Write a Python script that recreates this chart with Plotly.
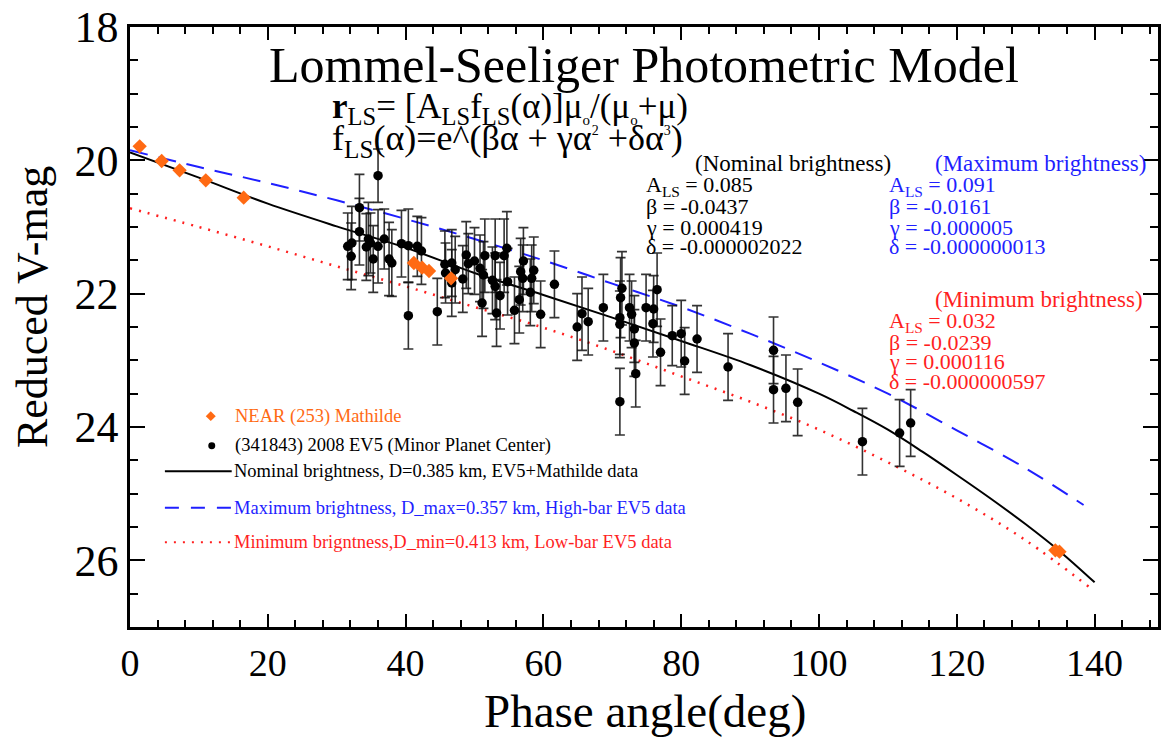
import plotly.graph_objects as go

# ---------------- data ----------------
ev5_phase = [31.6, 32.2, 32.1, 33.3, 33.3, 34.6, 34.3, 34.9, 35.3, 36.0,
             36.0, 36.9, 37.6, 38.0, 39.4, 40.4, 40.4, 41.7, 42.3, 44.6,
             45.7, 45.8, 46.7, 46.7, 47.2, 48.3, 48.8, 49.1, 50.0, 50.8,
             51.1, 51.5, 51.3, 52.6, 53.0, 53.0, 53.2, 53.7, 54.3, 54.7,
             54.8, 55.8, 56.5, 56.7, 57.0, 57.1, 58.1, 58.3, 58.6, 59.6,
             61.6, 64.9, 65.6, 66.5, 68.7, 71.1, 71.1, 71.1, 71.2, 71.4,
             72.5, 72.8, 73.2, 73.2, 73.4, 74.9, 76.0, 75.9, 76.5, 77.0,
             78.7, 80.0, 80.5, 82.3, 86.8, 93.4, 93.4, 95.2, 96.9, 106.3,
             111.7, 113.3]
ev5_vmag = [21.29, 21.24, 21.44, 20.71, 21.07, 21.18, 21.30, 21.24, 21.48, 20.23,
            21.29, 21.18, 21.48, 21.54, 21.25, 21.28, 22.33, 21.29, 21.36, 22.27,
            21.56, 21.69, 21.54, 21.84, 21.64, 21.78, 21.42, 21.55, 21.51, 21.62,
            22.14, 21.43, 21.72, 21.80, 21.43, 21.89, 22.29, 22.03, 21.43, 21.32,
            21.82, 22.25, 22.09, 21.67, 21.77, 21.51, 21.98, 21.77, 21.65, 22.31,
            21.86, 22.50, 22.30, 22.42, 22.21, 23.62, 22.46, 22.36, 22.06, 21.92,
            22.21, 22.31, 22.53, 22.74, 23.20, 22.21, 22.23, 22.45, 21.94, 22.88,
            22.63, 22.60, 23.01, 22.68, 23.10, 22.85, 23.44, 23.42, 23.63, 24.22,
            24.09, 23.94]
ev5_err = [0.50, 0.55, 0.50, 0.50, 0.50, 0.55, 0.50, 0.45, 0.50, 0.40,
           0.55, 0.45, 0.55, 0.50, 0.50, 0.55, 0.50, 0.45, 0.50, 0.50,
           0.50, 0.45, 0.50, 0.50, 0.50, 0.50, 0.50, 0.45, 0.50, 0.50,
           0.50, 0.55, 0.50, 0.50, 0.55, 0.50, 0.50, 0.50, 0.55, 0.55,
           0.50, 0.50, 0.50, 0.50, 0.50, 0.50, 0.50, 0.50, 0.50, 0.50,
           0.50, 0.50, 0.55, 0.50, 0.50, 0.50, 0.50, 0.55, 0.60, 0.55,
           0.50, 0.50, 0.50, 0.50, 0.50, 0.50, 0.50, 0.50, 0.55, 0.50,
           0.45, 0.50, 0.50, 0.50, 0.50, 0.50, 0.50, 0.50, 0.50, 0.50,
           0.50, 0.50]

near_phase = [1.4, 4.6, 7.2, 11.0, 16.5, 41.2, 42.4, 43.4, 46.6, 134.3, 134.9]
near_vmag = [19.79, 20.01, 20.15, 20.30, 20.56, 21.54, 21.61, 21.66, 21.77, 25.85, 25.87]

nominal_phase = [0, 10, 20, 30, 40, 50, 60, 70, 80, 90, 100, 105, 110, 115, 120,
                 125, 130, 135, 140]
nominal_vmag = [19.88, 20.26, 20.65, 20.99, 21.31, 21.69, 22.02, 22.36, 22.71, 23.07,
                23.50, 23.76, 24.04, 24.37, 24.72, 25.08, 25.46, 25.87, 26.33]

max_phase = [0, 10, 20, 30, 40, 50, 60, 70, 80, 90, 100, 110, 120, 130, 138.4]
max_vmag = [19.85, 20.10, 20.34, 20.60, 20.88, 21.18, 21.50, 21.85, 22.20, 22.60,
            23.03, 23.50, 24.05, 24.62, 25.17]

min_phase = [0, 10, 20, 30, 40, 50, 60, 70, 80, 90, 100, 110, 120, 130, 139.2]
min_vmag = [20.72, 21.00, 21.29, 21.59, 21.89, 22.20, 22.51, 22.86, 23.24, 23.62,
            24.04, 24.53, 25.07, 25.70, 26.40]

x_tickvals = [0, 20, 40, 60, 80, 100, 120, 140]
y_tickvals = [18, 20, 22, 24, 26]

# ---------------- layout helpers ----------------
W, H = 1164, 738
L, R, T, B = 130, 1161, 18, 627
FONT = "Liberation Serif"
BLUE = "#1f1fff"
RED = "#ff1f1f"
ORANGE = "#ff6a13"


def px(x):
    return (x - L) / (R - L)


def py(y):
    return (B - y) / (B - T)


fig = go.Figure()

fig.add_trace(go.Scatter(x=nominal_phase, y=nominal_vmag, mode="lines",
                         line=dict(color="black", width=2, shape="spline", smoothing=1.0),
                         hoverinfo="skip"))
fig.add_trace(go.Scatter(x=max_phase, y=max_vmag, mode="lines",
                         line=dict(color=BLUE, width=2, dash="18px,11px", shape="spline", smoothing=1.0),
                         hoverinfo="skip"))
fig.add_trace(go.Scatter(x=min_phase, y=min_vmag, mode="lines",
                         line=dict(color=RED, width=2.5, dash="2px,7px", shape="spline", smoothing=1.0),
                         hoverinfo="skip"))
fig.add_trace(go.Scatter(x=ev5_phase, y=ev5_vmag, mode="markers",
                         marker=dict(color="black", size=9.5, symbol="circle"),
                         error_y=dict(type="data", array=ev5_err, visible=True,
                                      color="rgba(15,15,15,0.85)", thickness=1.6, width=5)))
fig.add_trace(go.Scatter(x=near_phase, y=near_vmag, mode="markers",
                         marker=dict(color=ORANGE, size=11, symbol="diamond", line=dict(width=0))))

ann = []


def txt(x, y, text, size, color="black", xanchor="left", angle=0):
    ann.append(dict(x=px(x), y=py(y), xref="paper", yref="paper", text=text,
                    showarrow=False, xanchor=xanchor, yanchor="middle",
                    textangle=angle, font=dict(family=FONT, size=size, color=color)))


SMALL_O = "<sub><span style='font-size:15px'>o</span></sub>"
# title and formulae
txt(645, 57, "Lommel-Seeliger Photometric Model", 50, xanchor="center")
txt(331, 101, "<b>r</b><sub>LS</sub>= [A<sub>LS</sub>f<sub>LS</sub>(α)]μ" + SMALL_O + "/(μ" + SMALL_O + "+μ)", 35)
txt(331, 133, "f<sub>LS</sub>(α)=e^(βα + γα<sup><span style='font-size:14px'>2</span></sup> "
              "+δα<sup><span style='font-size:14px'>3</span></sup>)", 36)

# parameter blocks
row = [179, 200, 221, 241]
txt(695, 157, "(Nominal brightness)", 23)
for yy, s in zip(row, ["A<sub>LS</sub> = 0.085", "β = -0.0437", "γ = 0.000419", "δ = -0.000002022"]):
    txt(646, yy, s, 22)
txt(935, 157, "(Maximum brightness)", 23, BLUE)
for yy, s in zip(row, ["A<sub>LS</sub> = 0.091", "β = -0.0161", "γ = -0.000005", "δ = -0.000000013"]):
    txt(889, yy, s, 22, BLUE)
txt(935, 295, "(Minimum brightness)", 23, RED)
for yy, s in zip([317, 338, 358, 378], ["A<sub>LS</sub> = 0.032", "β = -0.0239", "γ = 0.000116", "δ = -0.000000597"]):
    txt(889, yy, s, 22, RED)

# legend texts
txt(233, 413, "NEAR (253) Mathilde", 18.5, ORANGE)
txt(233, 443, "(341843) 2008 EV5 (Minor Planet Center)", 18.5)
txt(232, 469, "Nominal brightness, D=0.385 km, EV5+Mathilde data", 18.5)
txt(232, 506, "Maximum brightness, D_max=0.357 km, High-bar EV5 data", 18.5, BLUE)
txt(232, 541, "Minimum brigntness,D_min=0.413 km, Low-bar EV5 data", 18.5, RED)

# axis titles
txt(33, 302, "Reduced V-mag", 44, xanchor="center", angle=-90)
txt(647, 712, "Phase angle(deg)", 47, xanchor="center")

shapes = []
# legend symbols
shapes.append(dict(type="path", xref="paper", yref="paper",
                   path=f"M {px(211)} {py(408)} L {px(216)} {py(413)} L {px(211)} {py(418)} L {px(206)} {py(413)} Z",
                   fillcolor=ORANGE, line=dict(width=0)))
shapes.append(dict(type="circle", xref="paper", yref="paper",
                   x0=px(208.5), x1=px(215.5), y0=py(446.5), y1=py(439.5),
                   fillcolor="black", line=dict(width=0)))
shapes.append(dict(type="line", xref="paper", yref="paper", x0=px(165), x1=px(232),
                   y0=py(469), y1=py(469), line=dict(color="black", width=2)))
shapes.append(dict(type="line", xref="paper", yref="paper", x0=px(165), x1=px(232),
                   y0=py(506), y1=py(506), line=dict(color=BLUE, width=2, dash="14px,12px")))
shapes.append(dict(type="line", xref="paper", yref="paper", x0=px(165), x1=px(232),
                   y0=py(541), y1=py(541), line=dict(color=RED, width=2, dash="2px,7px")))

axis_common = dict(showgrid=False, zeroline=False, showline=True, linecolor="black",
                   linewidth=2.5, mirror="ticks", ticks="inside", tickcolor="black",
                   tickwidth=2, ticklabeloverflow="allow")

fig.update_layout(
    width=W, height=H,
    margin=dict(l=L, r=W - R, t=T, b=H - B),
    paper_bgcolor="white", plot_bgcolor="white",
    showlegend=False,
    annotations=ann, shapes=shapes,
    xaxis=dict(range=[0, 149.2], tickvals=x_tickvals, ticklen=13,
               minor=dict(dtick=4, ticklen=7, tickwidth=2, ticks="inside", tickcolor="black"),
               ticklabelstandoff=1, tickfont=dict(family=FONT, size=38, color="black"),
               **axis_common),
    yaxis=dict(range=[27, 18], tickvals=y_tickvals, ticklen=15,
               minor=dict(dtick=0.5, ticklen=8, tickwidth=2, ticks="inside", tickcolor="black"),
               ticklabelstandoff=0, tickfont=dict(family=FONT, size=44, color="black"),
               **axis_common),
)

fig.write_html("out.html", config={"displayModeBar": False},
               post_script="document.body.style.margin='0px';")
